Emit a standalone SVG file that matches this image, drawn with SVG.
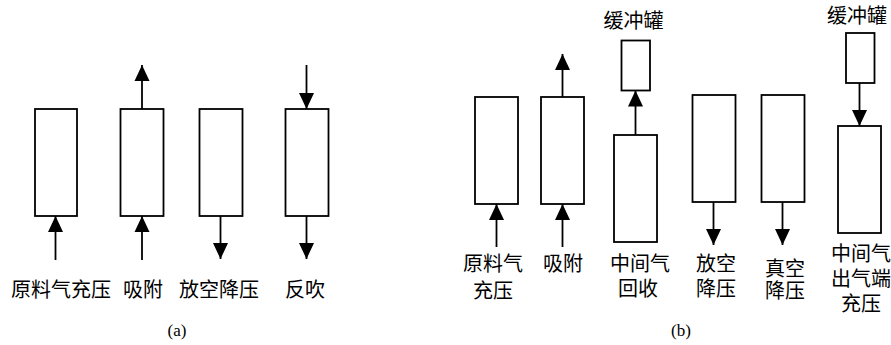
<svg xmlns="http://www.w3.org/2000/svg" width="891" height="345" viewBox="0 0 891 345">
<defs>
<marker id="ah" markerUnits="userSpaceOnUse" markerWidth="16" markerHeight="16" viewBox="0 0 16 15" refX="16" refY="7.5" orient="auto">
<path d="M0,0 L16,7.5 L0,15 Z" fill="#000"/>
</marker>
<style>
.box{fill:#fff;stroke:#000;stroke-width:1.8}
.ar{stroke:#000;stroke-width:1.8;fill:none;marker-end:url(#ah)}
.t{font-family:"Liberation Serif","Noto Sans CJK SC",serif;font-size:20px;fill:#000;text-anchor:middle}
.c{font-family:"Liberation Serif","Noto Sans CJK SC",serif;font-size:17px;fill:#000;text-anchor:middle}
</style>
</defs>
<rect width="891" height="345" fill="#fff"/>
<g id="a1"><rect class="box" x="35" y="109" width="42" height="107"/><text class="t" x="61" y="297">原料气充压</text></g>
<g id="a2"><rect class="box" x="120.5" y="109" width="43" height="107"/><text class="t" x="143" y="297">吸附</text></g>
<g id="a3"><rect class="box" x="199.5" y="109" width="43" height="107"/><text class="t" x="219" y="297">放空降压</text></g>
<g id="a4"><rect class="box" x="285.5" y="109" width="43" height="107"/><text class="t" x="305" y="297">反吹</text></g>
<g id="b1"><rect class="box" x="475" y="97" width="43" height="107"/><text class="t" x="493" y="271">原料气</text><text class="t" x="493" y="298">充压</text></g>
<g id="b2"><rect class="box" x="541" y="97" width="43" height="107"/><text class="t" x="563" y="271">吸附</text></g>
<g id="b3tank"><rect class="box" x="621.5" y="40.5" width="28.5" height="50"/><text class="t" x="633.5" y="28">缓冲罐</text></g>
<g id="b3"><rect class="box" x="614" y="135" width="43" height="107"/><text class="t" x="640" y="271">中间气</text><text class="t" x="638" y="296">回收</text></g>
<g id="b4"><rect class="box" x="692.5" y="95" width="43" height="107"/><text class="t" x="716" y="271">放空</text><text class="t" x="716" y="296">降压</text></g>
<g id="b5"><rect class="box" x="761.5" y="95" width="43" height="107"/><text class="t" x="785" y="276">真空</text><text class="t" x="785" y="298">降压</text></g>
<g id="b6tank"><rect class="box" x="846" y="33" width="28.5" height="50"/><text class="t" x="857" y="23">缓冲罐</text></g>
<g id="b6"><rect class="box" x="838" y="126" width="43" height="107"/><text class="t" x="861" y="261">中间气</text><text class="t" x="861" y="286">出气端</text><text class="t" x="861" y="311">充压</text></g>
<g id="connectors">
<line class="ar" x1="55.5" y1="260" x2="55.5" y2="216"/>
<line class="ar" x1="142" y1="260" x2="142" y2="216"/>
<line class="ar" x1="142" y1="109" x2="142" y2="65"/>
<line class="ar" x1="220.5" y1="216" x2="220.5" y2="259"/>
<line class="ar" x1="306.5" y1="65" x2="306.5" y2="109"/>
<line class="ar" x1="306.5" y1="216" x2="306.5" y2="259"/>
<line class="ar" x1="496.5" y1="247" x2="496.5" y2="204"/>
<line class="ar" x1="562.5" y1="247" x2="562.5" y2="204"/>
<line class="ar" x1="562.5" y1="97" x2="562.5" y2="54"/>
<line class="ar" x1="635.5" y1="135" x2="635.5" y2="90.5"/>
<line class="ar" x1="713.5" y1="202" x2="713.5" y2="245"/>
<line class="ar" x1="782.5" y1="202" x2="782.5" y2="245"/>
<line class="ar" x1="859.5" y1="83" x2="859.5" y2="126"/>
</g>
<text class="c" x="177" y="336">(a)</text>
<text class="c" x="681" y="336">(b)</text>
</svg>
